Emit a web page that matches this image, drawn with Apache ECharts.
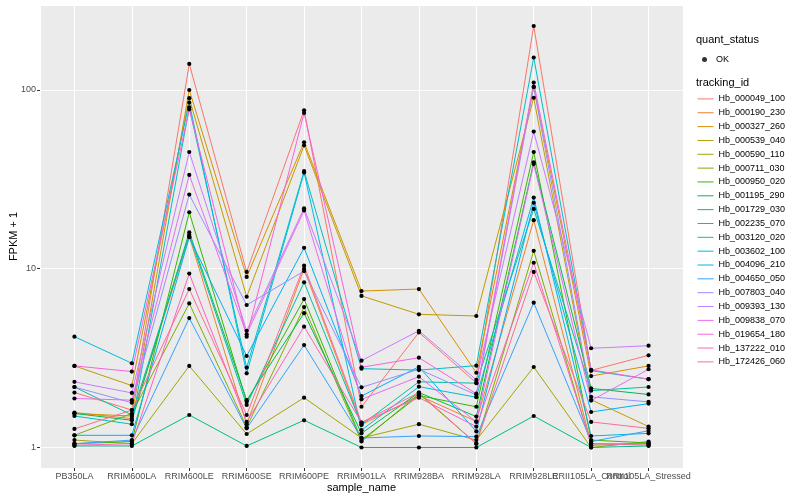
<!DOCTYPE html>
<html>
<head>
<meta charset="utf-8">
<script src="https://cdn.jsdelivr.net/npm/echarts@6/dist/echarts.min.js"></script>
<style>html,body{margin:0;padding:0;background:#fff}#c{width:800px;height:500px}</style>
</head>
<body>
<div id="c"></div>
<script>
const categories = ["PB350LA","RRIM600LA","RRIM600LE","RRIM600SE","RRIM600PE","RRIM901LA","RRIM928BA","RRIM928LA","RRIM928LE","RRII105LA_Control","RRII105LA_Stressed"];
const trackingIds = ["Hb_000049_100","Hb_000190_230","Hb_000327_260","Hb_000539_040","Hb_000590_110","Hb_000711_030","Hb_000950_020","Hb_001195_290","Hb_001729_030","Hb_002235_070","Hb_003120_020","Hb_003602_100","Hb_004096_210","Hb_004650_050","Hb_007803_040","Hb_009393_130","Hb_009838_070","Hb_019654_180","Hb_137222_010","Hb_172426_060"];
const colors = ["#F8766D","#EA8331","#D89000","#C09B00","#A3A500","#7CAE00","#39B600","#00BB4E","#00BF7D","#00C1A3","#00BFC4","#00BAE0","#00B0F6","#35A2FF","#9590FF","#C77CFF","#E76BF3","#FA62DB","#FF62BC","#FF6C91"];
const yTicks = [1, 10, 100];

// FPKM + 1, one array per tracking_id, in category order
const Hb_000049_100 = [2.03, 1.62, 140, 9.6, 77, 1.69, 4.4, 2.3, 228, 2.7, 3.28];
const Hb_000190_230 = [1.57, 1.45, 15.2, 1.35, 10, 1.34, 1.95, 1.4, 18.7, 1.05, 1.05];
const Hb_000327_260 = [1.55, 1.5, 100, 9.0, 51, 7.5, 7.7, 2.62, 104, 2.51, 2.86];
const Hb_000539_040 = [2.86, 2.22, 90, 6.97, 49, 7.05, 5.56, 5.44, 90.5, 1.85, 1.31];
const Hb_000590_110 = [1.1, 1.05, 2.86, 1.19, 1.9, 1.13, 1.35, 1.1, 2.82, 1.0, 1.08];
const Hb_000711_030 = [1.17, 1.55, 6.4, 1.3, 6.1, 1.08, 2.0, 1.05, 12.6, 1.03, 1.05];
const Hb_000950_020 = [1.05, 1.08, 20.7, 1.8, 6.77, 1.1, 1.95, 1.69, 45, 1.1, 1.06];
const Hb_001195_290 = [1.55, 1.42, 16, 1.84, 5.64, 1.2, 2.03, 1.49, 39.4, 2.14, 1.98];
const Hb_001729_030 = [1.02, 1.02, 1.52, 1.02, 1.42, 1.0, 1.0, 1.0, 1.5, 1.0, 1.02];
const Hb_002235_070 = [2.18, 1.52, 15.5, 1.73, 8.4, 1.34, 2.33, 2.29, 21.6, 2.08, 2.18];
const Hb_003120_020 = [1.5, 1.35, 80, 2.8, 35.2, 2.76, 2.71, 2.87, 152, 2.69, 2.41];
const Hb_003602_100 = [4.17, 2.96, 85, 2.6, 34.5, 1.25, 2.19, 1.91, 25, 1.16, 1.2];
const Hb_004096_210 = [1.17, 1.17, 15, 3.25, 13.1, 1.94, 2.83, 1.23, 23.4, 1.58, 1.76];
const Hb_004650_050 = [1.05, 1.1, 5.3, 1.28, 3.74, 1.13, 1.16, 1.15, 6.46, 1.08, 1.24];
const Hb_007803_040 = [2.18, 1.78, 26, 6.27, 9.7, 2.17, 2.74, 1.97, 104, 1.92, 1.8];
const Hb_009393_130 = [2.33, 2.02, 45, 4.5, 21.8, 3.06, 4.5, 2.39, 58.5, 3.59, 3.71];
const Hb_009838_070 = [1.88, 1.84, 33.5, 4.3, 21.2, 1.86, 2.49, 1.39, 38.5, 1.83, 2.74];
const Hb_019654_180 = [2.86, 2.66, 78, 4.17, 74.4, 2.81, 3.18, 2.0, 110, 2.72, 2.41];
const Hb_137222_010 = [1.03, 1.05, 9.4, 1.39, 4.74, 1.38, 1.9, 1.31, 10.8, 1.05, 1.03];
const Hb_172426_060 = [1.27, 1.62, 7.7, 1.52, 10.4, 1.38, 2.03, 1.05, 9.6, 1.39, 1.28];

const seriesValues = [Hb_000049_100,Hb_000190_230,Hb_000327_260,Hb_000539_040,Hb_000590_110,Hb_000711_030,Hb_000950_020,Hb_001195_290,Hb_001729_030,Hb_002235_070,Hb_003120_020,Hb_003602_100,Hb_004096_210,Hb_004650_050,Hb_007803_040,Hb_009393_130,Hb_009838_070,Hb_019654_180,Hb_137222_010,Hb_172426_060];

const FONT = "Liberation Sans, Arial, Helvetica, sans-serif";
const yMinLog = -0.1147, yMaxLog = 2.4755;

const series = trackingIds.map((name, i) => ({
  name: name,
  type: 'line',
  color: colors[i],
  data: seriesValues[i].map((v, j) => [j, v]),
  symbol: 'circle',
  symbolSize: 4.2,
  showSymbol: true,
  lineStyle: { color: colors[i], width: 1 },
  itemStyle: { color: '#000', borderWidth: 0 },
  emphasis: { disabled: true },
  z: 2
}));
series.push({
  name: 'OK', type: 'scatter', data: [], symbol: 'circle',
  itemStyle: { color: '#000' }, emphasis: { disabled: true }
});

const chart = echarts.init(document.getElementById('c'), null, { renderer: 'canvas' });
chart.setOption({
  animation: false,
  backgroundColor: '#fff',
  textStyle: { fontFamily: FONT },
  title: [
    { text: 'quant_status', left: 696, top: 34, textStyle: { fontSize: 11, fontWeight: 'normal', color: '#000', fontFamily: FONT }, padding: 0 },
    { text: 'tracking_id', left: 696, top: 77, textStyle: { fontSize: 11, fontWeight: 'normal', color: '#000', fontFamily: FONT }, padding: 0 }
  ],
  grid: { left: 40, right: 117, top: 5, bottom: 32, show: true, backgroundColor: '#EBEBEB', borderWidth: 0, containLabel: false, outerBoundsMode: 'none' },
  legend: [
    {
      data: ['OK'], orient: 'vertical', left: 702, top: 55, padding: 0,
      itemWidth: 5, itemHeight: 5, icon: 'circle',
      textStyle: { fontSize: 9, color: '#000', fontFamily: FONT, padding: [0, 0, 0, 4] },
      selectedMode: false
    },
    {
      data: trackingIds, orient: 'vertical', left: 697, top: 92, padding: 0,
      itemWidth: 16, itemHeight: 17.3, itemGap: 0,
      itemStyle: { color: 'rgba(0,0,0,0)', borderWidth: 0 },
      lineStyle: { width: 1 },
      textStyle: { fontSize: 9, color: '#000', fontFamily: FONT },
      selectedMode: false
    }
  ],
  xAxis: {
    type: 'value', min: -0.6, max: 10.6, splitNumber: 10, minInterval: 1, maxInterval: 1,
    name: 'sample_name', nameLocation: 'middle', nameGap: 14, nameMoveOverlap: false,
    nameTextStyle: { fontSize: 11, color: '#000', fontFamily: FONT },
    axisLine: { show: false, onZero: false },
    axisTick: { show: true, length: 3, lineStyle: { color: '#333', width: 1 } },
    axisLabel: {
      show: true, margin: 4, fontSize: 9, color: '#4D4D4D', fontFamily: FONT,
      showMinLabel: false, showMaxLabel: false, hideOverlap: false,
      formatter: v => (Number.isInteger(v) && categories[v] !== undefined) ? categories[v] : ''
    },
    splitLine: { show: true, lineStyle: { color: '#FFFFFF', width: 1.1 } }
  },
  yAxis: [
    {
      type: 'log', logBase: 10, min: Math.pow(10, yMinLog), max: Math.pow(10, yMaxLog),
      name: 'FPKM + 1', nameLocation: 'middle', nameGap: 21, nameRotate: 90, nameMoveOverlap: false,
      nameTextStyle: { fontSize: 11, color: '#000', fontFamily: FONT },
      axisLine: { show: false, onZero: false },
      axisTick: { show: true, length: 3, lineStyle: { color: '#333', width: 1 } },
      axisLabel: {
        margin: 4, fontSize: 9, color: '#4D4D4D', fontFamily: FONT,
        showMinLabel: false, showMaxLabel: false,
        formatter: v => { const r = Math.round(v); return yTicks.includes(r) && Math.abs(v - r) < 1e-6 ? String(r) : ''; }
      },
      splitLine: { show: true, lineStyle: { color: '#FFFFFF', width: 1.1 } }
    },
    {
      type: 'value', min: yMinLog, max: yMaxLog, splitNumber: 5, minInterval: 0.5, maxInterval: 0.5,
      axisLine: { show: false, onZero: false }, axisTick: { show: false }, axisLabel: { show: false },
      splitLine: { show: true, showMinLine: false, showMaxLine: false, lineStyle: { color: ['#FBFBFB', 'rgba(255,255,255,0)'], width: 0.8 } }
    }
  ],
  series: series
});
</script>
</body>
</html>
